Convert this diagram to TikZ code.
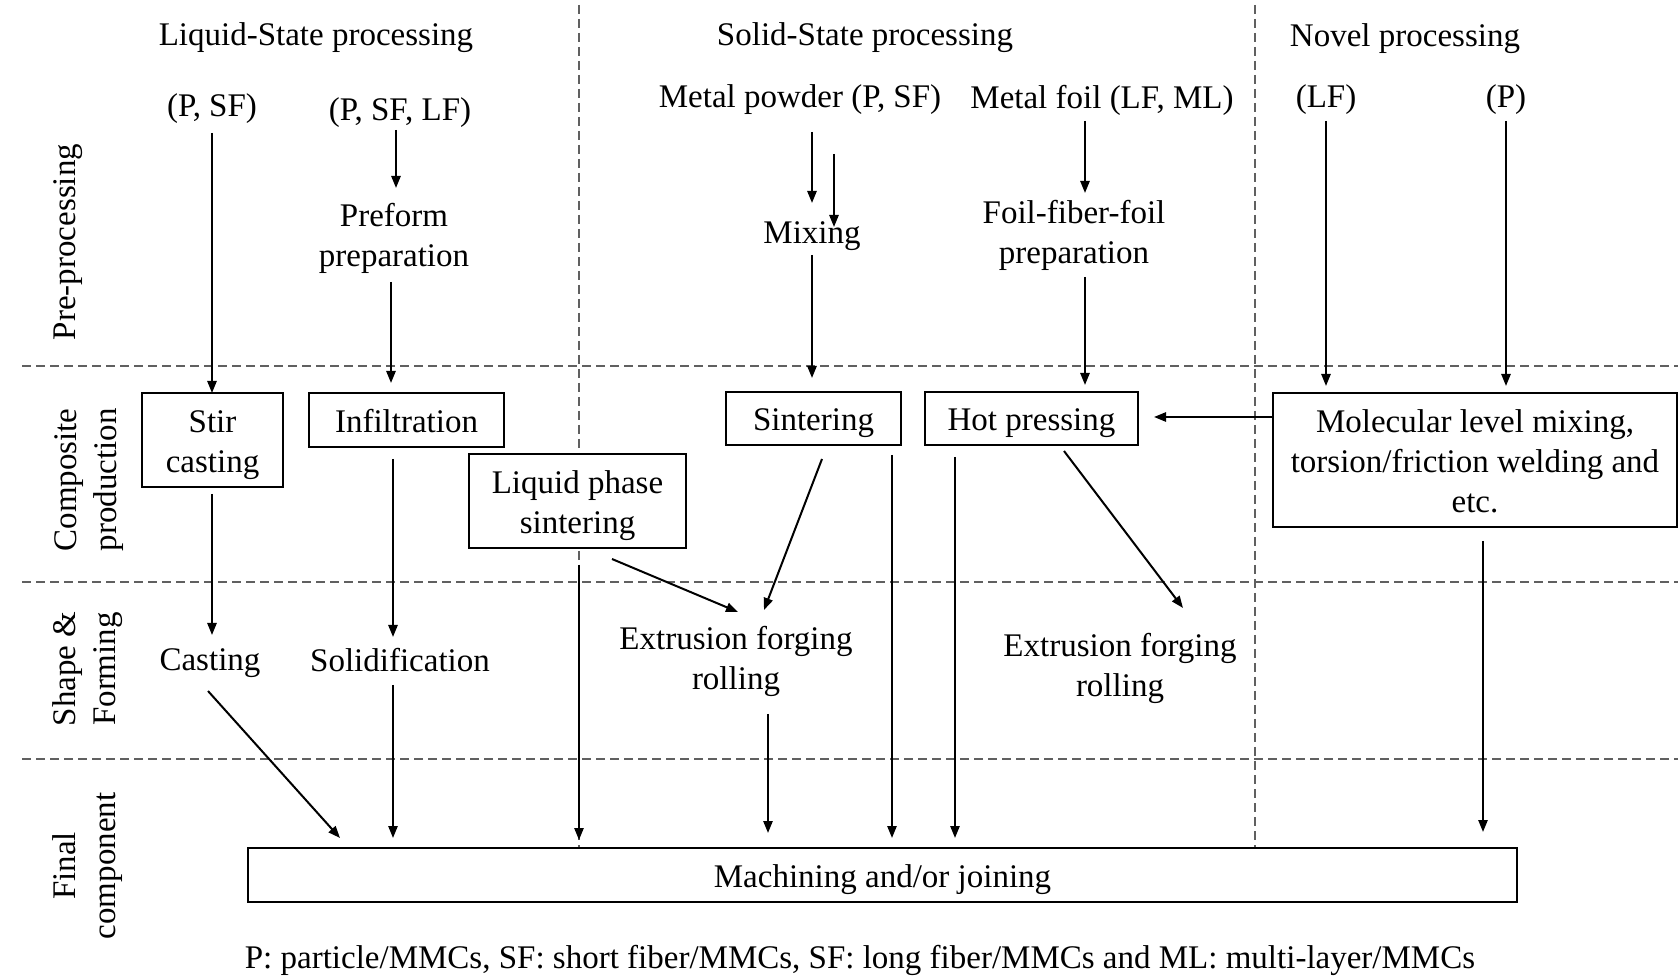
\documentclass[tikz,border=0pt]{standalone}
\usepackage{fontspec}
\setmainfont{Liberation Serif}
\usetikzlibrary{arrows.meta,calc}
\newcommand{\mystrut}{\rule[-3.5pt]{0pt}{19.5pt}}
\begin{document}
\begin{tikzpicture}[x=0.5pt,y=-0.5pt,
  txt/.style={inner sep=0pt, outer sep=0pt, align=center, font=\fontsize{16.5pt}{20pt}\selectfont},
  box/.style={txt, draw, line width=0.9pt, fill=white},
  arr/.style={line width=1pt, -{Triangle[length=6pt,width=4.6pt]}},
  gridline/.style={gray!75!black, line width=0.6pt, dash pattern=on 4.5pt off 2.5pt}]
\fill[white] (0,0) rectangle (1678,978);
\useasboundingbox (0,0) rectangle (1678,978);
% grid
\draw[gridline] (22,366) -- (1678,366);
\draw[gridline] (22,582) -- (1678,582);
\draw[gridline] (22,759) -- (1678,759);
\draw[gridline] (579,5) -- (579,848);
\draw[gridline] (1255,5) -- (1255,848);
% titles
\node[txt] (tLiq) at (316,38) {Liquid-State processing};
\node[txt] (tSol) at (865,38) {Solid-State processing};
\node[txt] (tNov) at (1405,39) {Novel processing};
% row labels
\node[txt, rotate=90] (rPre) at (68,242) {Pre-processing};
\node[txt, rotate=90] (rComp) at (89,480) {Composite\\production};
\node[txt, rotate=90] (rShape) at (88,669) {Shape \&\\Forming};
\node[txt, rotate=90] (rFinal) at (88,866) {Final\\component};
% inputs
\node[txt] (psf) at (212,109) {(P, SF)};
\node[txt] (psflf) at (400,113) {(P, SF, LF)};
\node[txt] (mpow) at (800,100) {Metal powder (P, SF)};
\node[txt] (mfoil) at (1102,100) {Metal foil (LF, ML)};
\node[txt] (lf) at (1326,100) {(LF)};
\node[txt] (p) at (1506,100) {(P)};
% pre-processing
\node[txt] (preform) at (394,238) {Preform\\preparation};
\node[txt] (mixing) at (812,236) {Mixing};
\node[txt] (foil) at (1074,235) {Foil-fiber-foil\\preparation};
% composite production
\node[box, minimum width=70.5pt, minimum height=47pt] (stir) at (212.5,440) {\mystrut Stir\\\mystrut casting};
\node[box, minimum width=97.5pt, minimum height=27pt] (infil) at (406.5,420) {\mystrut Infiltration};
\node[box, minimum width=108.5pt, minimum height=47pt] (lps) at (577.5,501) {\mystrut Liquid phase\\\mystrut sintering};
\node[box, minimum width=87.5pt, minimum height=26.5pt] (sint) at (813.5,418.5) {\mystrut Sintering};
\node[box, minimum width=106.5pt, minimum height=26.5pt] (hotp) at (1031.5,418.5) {\mystrut Hot pressing};
\node[box, minimum width=202pt, minimum height=67pt] (novel) at (1475,460) {\mystrut Molecular level mixing,\\\mystrut torsion/friction welding and\\\mystrut etc.};
% shape & forming
\node[txt] (casting) at (210,663) {Casting};
\node[txt] (solid) at (400,660) {Solidification};
\node[txt] (ext1) at (736,661) {Extrusion forging\\rolling};
\node[txt] (ext2) at (1120,668) {Extrusion forging\\rolling};
% final
\node[box, minimum width=634.5pt, minimum height=27pt] (mach) at (882.5,875) {\mystrut Machining and/or joining};
\node[txt] (note) at (860,960) {P: particle/MMCs, SF: short fiber/MMCs, SF: long fiber/MMCs and ML: multi-layer/MMCs};
% arrows
\draw[arr] ($(psf)+(0,24)$) -- (psf |- stir.north);
\draw[arr] ($(psflf)+(-4,17)$) -- ($(preform)+(2,-50)$);
\draw[arr] ($(preform)+(-3,44)$) -- ($(infil.north)+(-15.5,-10)$);
\draw[arr] ($(stir.south)+(-0.5,7)$) -- ($(casting)+(2,-28)$);
\draw[arr] ($(infil.south)+(-13.5,12)$) -- ($(solid)+(-7,-23)$);
\draw[arr] ($(casting)+(-2,28)$) -- ($(mach.north west)+(92,-10)$);
\draw[arr] ($(solid)+(-7,25)$) -- ($(mach.north west)+(145,-10)$);
\draw[arr] ($(lps.south)+(1.5,17)$) -- ($(mach.north west)+(331,-8)$);
\draw[arr] ($(lps.south)+(34.5,11)$) -- ($(ext1)+(2,-49)$);
\draw[arr] ($(mpow)+(12,32)$) -- ($(mixing)+(0,-33)$);
\draw[arr] ($(mpow)+(34,54)$) -- ($(mixing)+(22,-9)$);
\draw[arr] ($(mixing)+(0,19)$) -- ($(sint.north)+(-1.5,-14)$);
\draw[arr] ($(sint.south)+(8.5,14)$) -- ($(ext1)+(28,-51)$);
\draw[arr] ($(sint.south east)+(-9,10)$) -- ($(mach.north west)+(644,-10)$);
\draw[arr] ($(hotp.south west)+(30,12)$) -- ($(mach.north west)+(707,-10)$);
\draw[arr] ($(hotp.south)+(32.5,6)$) -- ($(ext2)+(63,-60)$);
\draw[arr] ($(ext1)+(32,53)$) -- ($(mach.north west)+(520,-15)$);
\draw[arr] ($(mfoil)+(-17,21)$) -- ($(foil)+(11,-42)$);
\draw[arr] ($(foil)+(11,42)$) -- ($(hotp.north)+(53.5,-7)$);
\draw[arr] ($(novel.north west)+(0,24)$) -- ($(hotp.east)+(16,-1.5)$);
\draw[arr] ($(lf)+(0,21)$) -- ($(novel.north west)+(53,-7)$);
\draw[arr] ($(p)+(0,21)$) -- ($(novel.north west)+(233,-7)$);
\draw[arr] ($(novel.south)+(8,14)$) -- ($(mach.north east)+(-34,-16)$);
\end{tikzpicture}
\end{document}
